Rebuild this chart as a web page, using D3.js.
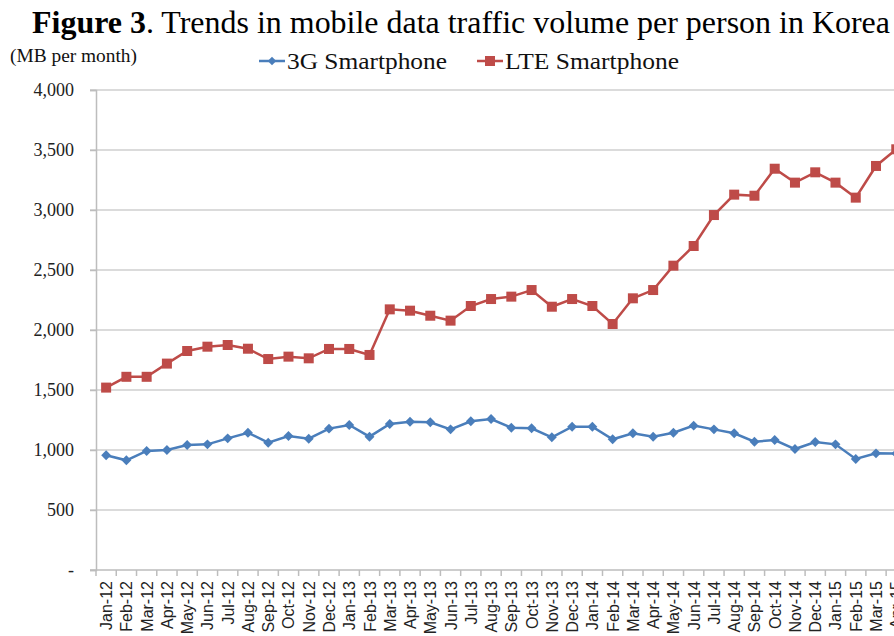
<!DOCTYPE html>
<html>
<head>
<meta charset="utf-8">
<script src="https://cdn.jsdelivr.net/npm/d3@7"></script>
<style>
  body { margin: 0; background: #fff; overflow: hidden; }
  svg { display: block; }
  .serif { font-family: "Liberation Serif", "Times New Roman", Times, serif; }
  .sans { font-family: "Liberation Sans", Arial, Helvetica, sans-serif; }
</style>
</head>
<body>
<div id="grafico"></div>
<script>
// data (MB per month)
const meses = ["Jan-12","Feb-12","Mar-12","Apr-12","May-12","Jun-12","Jul-12","Aug-12","Sep-12","Oct-12","Nov-12","Dec-12",
  "Jan-13","Feb-13","Mar-13","Apr-13","May-13","Jun-13","Jul-13","Aug-13","Sep-13","Oct-13","Nov-13","Dec-13",
  "Jan-14","Feb-14","Mar-14","Apr-14","May-14","Jun-14","Jul-14","Aug-14","Sep-14","Oct-14","Nov-14","Dec-14",
  "Jan-15","Feb-15","Mar-15","Apr-15"];
const serie3G = [956, 914, 992, 1000, 1042, 1047, 1097, 1144, 1061, 1117, 1094, 1178,
  1208, 1111, 1217, 1236, 1231, 1172, 1239, 1258, 1186, 1181, 1106, 1194,
  1194, 1089, 1139, 1111, 1144, 1203, 1172, 1139, 1069, 1083, 1008, 1067,
  1047, 925, 972, 970];
const serieLTE = [1520, 1610, 1610, 1720, 1825, 1861, 1875, 1844, 1758, 1778, 1764, 1842,
  1842, 1792, 2172, 2161, 2119, 2078, 2200, 2258, 2278, 2333, 2194, 2258,
  2200, 2050, 2264, 2333, 2536, 2700, 2958, 3128, 3119, 3344, 3228, 3314,
  3228, 3103, 3367, 3506];
const yTicks = [0, 500, 1000, 1500, 2000, 2500, 3000, 3500, 4000];
const nombres = ["3G Smartphone", "LTE Smartphone"];
const colores = ["#4a7ebb", "#be4b48"];

const width = 894;
const height = 636;
const marginLeft = 96;
const marginTop = 90;
const plotBottom = 570;
const paso = 20.26;

const svg = d3.select("#grafico").append("svg")
  .attr("width", width)
  .attr("height", height);

const xScale = d3.scaleBand()
  .domain(meses)
  .range([marginLeft, marginLeft + paso * meses.length]);

const yScale = d3.scaleLinear()
  .domain([0, 4000])
  .range([plotBottom, marginTop]);

// gridlines
svg.append("g")
  .selectAll("line")
  .data(yTicks.filter(d => d > 0))
  .join("line")
  .attr("x1", marginLeft - 6)
  .attr("x2", width)
  .attr("y1", d => yScale(d))
  .attr("y2", d => yScale(d))
  .attr("stroke", "#cfcfcf")
  .attr("stroke-width", 1.5);

// y axis
const yAxis = d3.axisLeft(yScale)
  .tickValues(yTicks)
  .tickSize(6)
  .tickFormat(d => d === 0 ? "-" : d3.format(",")(d));

const gy = svg.append("g")
  .attr("transform", `translate(${marginLeft},0)`)
  .call(yAxis);
gy.attr("font-family", null).attr("font-size", null);
gy.select(".domain").attr("stroke", "#bdbdbd").attr("stroke-width", 1.5);
gy.selectAll(".tick line").attr("stroke", "#bdbdbd").attr("stroke-width", 1.5);
gy.selectAll(".tick text")
  .attr("class", "serif")
  .attr("x", -22)
  .attr("dy", "0.33em")
  .style("font-size", "18px")
  .attr("fill", "#222");

// x axis
const gx = svg.append("g")
  .attr("transform", `translate(0,${plotBottom})`);
gx.append("line")
  .attr("x1", marginLeft - 6)
  .attr("x2", width)
  .attr("stroke", "#bdbdbd")
  .attr("stroke-width", 1.5);
gx.selectAll("line.tk")
  .data(meses)
  .join("line")
  .attr("class", "tk")
  .attr("x1", d => xScale(d))
  .attr("x2", d => xScale(d))
  .attr("y1", 0)
  .attr("y2", 6)
  .attr("stroke", "#bdbdbd")
  .attr("stroke-width", 1.5);
gx.selectAll("text")
  .data(meses)
  .join("text")
  .attr("class", "sans")
  .attr("transform", d => `translate(${xScale(d) + xScale.bandwidth() / 2 + 6},11) rotate(-90)`)
  .attr("text-anchor", "end")
  .style("font-size", "16px")
  .attr("fill", "#222")
  .text(d => d);

// lines
const cx = d => xScale(d) + xScale.bandwidth() / 2;
const linea = d3.line()
  .x((d, i) => cx(meses[i]))
  .y(d => yScale(d));

svg.append("path")
  .datum(serie3G)
  .attr("fill", "none")
  .attr("stroke", colores[0])
  .attr("stroke-width", 2.5)
  .attr("d", linea);

svg.append("path")
  .datum(serieLTE)
  .attr("fill", "none")
  .attr("stroke", colores[1])
  .attr("stroke-width", 2.5)
  .attr("d", linea);

// markers
svg.append("g")
  .selectAll("path")
  .data(serie3G)
  .join("path")
  .attr("transform", (d, i) => `translate(${cx(meses[i])},${yScale(d)}) rotate(45)`)
  .attr("d", "M-3.5,-3.5H3.5V3.5H-3.5Z")
  .attr("fill", colores[0]);

svg.append("g")
  .selectAll("rect")
  .data(serieLTE)
  .join("rect")
  .attr("x", (d, i) => cx(meses[i]) - 5)
  .attr("y", d => yScale(d) - 5)
  .attr("width", 10)
  .attr("height", 10)
  .attr("fill", colores[1]);

// title
const titulo = svg.append("text")
  .attr("class", "serif")
  .attr("x", 32)
  .attr("y", 33)
  .attr("textLength", 858)
  .attr("lengthAdjust", "spacingAndGlyphs")
  .style("font-size", "31px")
  .attr("fill", "#000");
titulo.append("tspan").style("font-weight", "bold").text("Figure 3");
titulo.append("tspan").text(". Trends in mobile data traffic volume per person in Korea");

// unit label
svg.append("text")
  .attr("class", "serif")
  .attr("x", 10)
  .attr("y", 62)
  .attr("textLength", 127)
  .attr("lengthAdjust", "spacingAndGlyphs")
  .style("font-size", "18px")
  .attr("fill", "#111")
  .text("(MB per month)");

// legend
const leyenda = svg.append("g");
const legX = [259, 477];
const legW = [160, 174];
nombres.forEach((n, i) => {
  const g = leyenda.append("g").attr("transform", `translate(${legX[i]},61)`);
  g.append("line").attr("x1", 0).attr("x2", 26)
    .attr("stroke", colores[i]).attr("stroke-width", 2.5);
  if (i === 0) {
    g.append("path").attr("transform", "translate(13,0) rotate(45)")
      .attr("d", "M-3,-3H3V3H-3Z").attr("fill", colores[i]);
  } else {
    g.append("rect").attr("x", 8).attr("y", -5).attr("width", 10).attr("height", 10)
      .attr("fill", colores[i]);
  }
  g.append("text")
    .attr("class", "serif")
    .attr("x", 28)
    .attr("y", 7.5)
    .attr("textLength", legW[i])
    .attr("lengthAdjust", "spacingAndGlyphs")
    .style("font-size", "23px")
    .attr("fill", "#111")
    .text(n);
});
</script>
</body>
</html>
